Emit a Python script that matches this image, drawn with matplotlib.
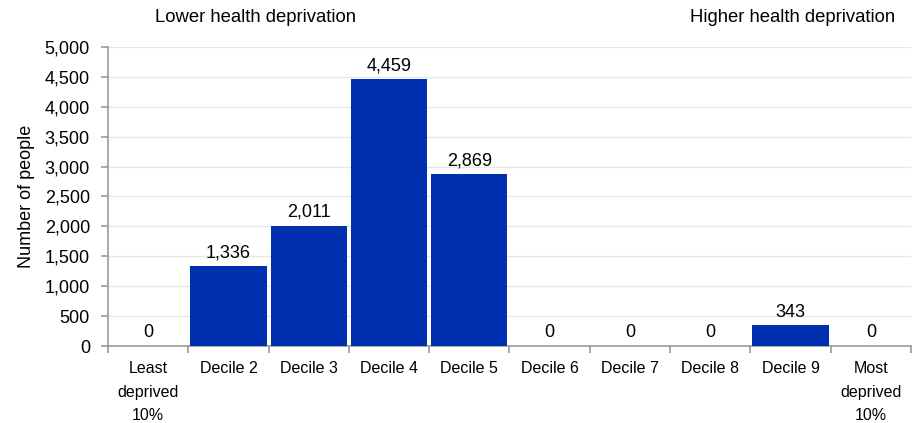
import matplotlib
matplotlib.use("Agg")
import matplotlib.pyplot as plt
from matplotlib.ticker import FuncFormatter, MultipleLocator

categories = ["Least\ndeprived\n10%", "Decile 2", "Decile 3", "Decile 4", "Decile 5",
              "Decile 6", "Decile 7", "Decile 8", "Decile 9", "Most\ndeprived\n10%"]
values = [0, 1336, 2011, 4459, 2869, 0, 0, 0, 343, 0]
y_label = "Number of people"
left_note = "Lower health deprivation"
right_note = "Higher health deprivation"

plt.rcParams['font.family'] = ['Liberation Sans', 'DejaVu Sans']
fig = plt.figure(figsize=(9.15, 4.23), dpi=100)
ax = fig.add_axes([0.118, 0.182, 0.8776, 0.707])
x = list(range(len(values)))
bars = ax.bar(x, values, width=0.95, color='#0030B0', zorder=3)
ax.set_xlim(-0.5, len(values) - 0.5)
ax.set_ylim(0, 5000)
ax.yaxis.set_major_locator(MultipleLocator(500))
ax.yaxis.set_major_formatter(FuncFormatter(lambda v, p: f"{int(v):,}"))
ax.grid(axis='y', color='#e8e8e8', linewidth=1, zorder=0)
for s in ['top', 'right']:
    ax.spines[s].set_visible(False)
for s in ['left', 'bottom']:
    ax.spines[s].set_color('#9a9a9a')
    ax.spines[s].set_linewidth(1.2)
ax.set_xticks(x)
ax.set_xticklabels(categories, fontsize=11.5, linespacing=1.7)
ax.tick_params(axis='x', length=0, pad=11)
ax.set_xticks([i - 0.5 for i in range(len(values) + 1)], minor=True)
ax.tick_params(axis='x', which='minor', length=5, color='#9a9a9a', width=1.2)
ax.tick_params(axis='y', labelsize=13, length=5, color='#9a9a9a', width=1.2, pad=8)
ax.set_ylabel(y_label, fontsize=13, labelpad=7)
for xi, v in zip(x, values):
    ax.text(xi, v + 80, f"{v:,}", ha='center', va='bottom', fontsize=13, zorder=4)
fig.text(155 / 915, 1 - 18 / 423, left_note, ha='left', va='center', fontsize=13.3)
fig.text(895 / 915, 1 - 18 / 423, right_note, ha='right', va='center', fontsize=13.3)
fig.savefig("out.png", dpi=100)
